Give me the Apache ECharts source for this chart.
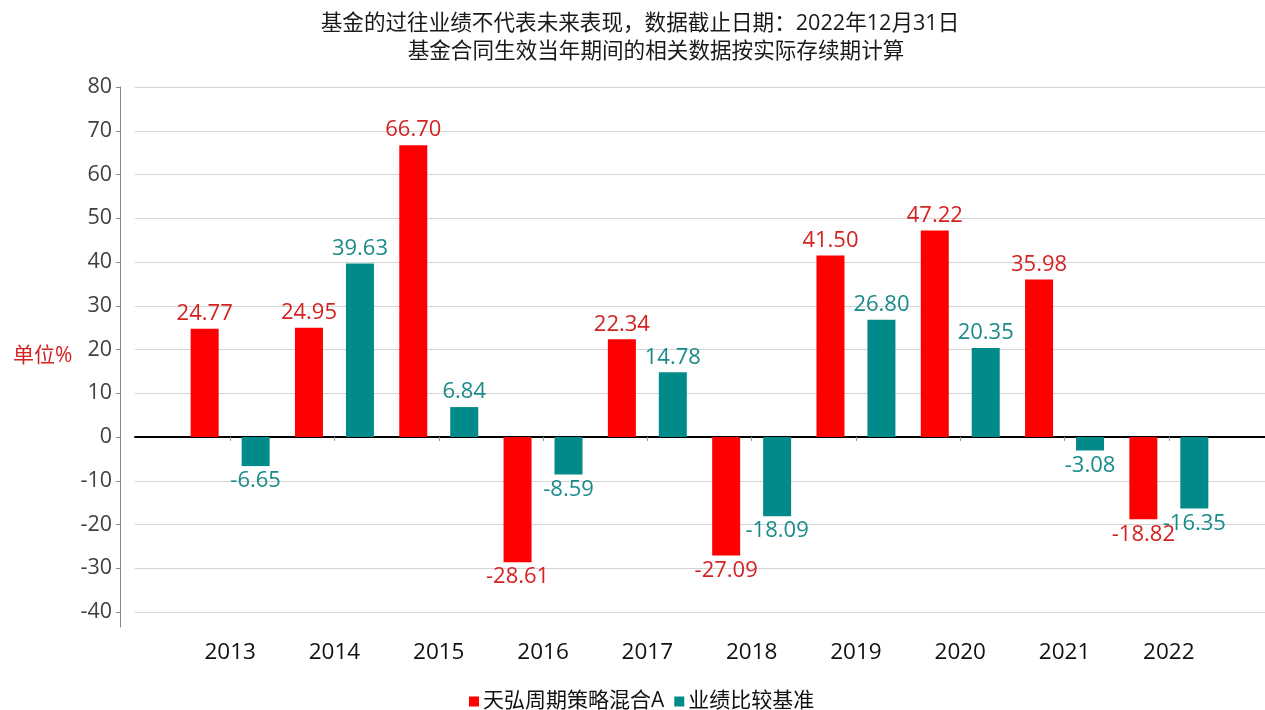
<!DOCTYPE html>
<html>
<head>
<meta charset="utf-8">
<title>天弘周期策略混合A</title>
<script src="https://cdn.jsdelivr.net/npm/echarts@6/dist/echarts.min.js"></script>
<style>
  html, body { margin: 0; padding: 0; background: #fff; }
  #chart { width: 1265px; height: 710px; }
</style>
</head>
<body>
<div id="chart"></div>
<script>
  // 数据
  var years = ['2013', '2014', '2015', '2016', '2017', '2018', '2019', '2020', '2021', '2022'];
  var fundName = '天弘周期策略混合A';
  var benchName = '业绩比较基准';
  var fundValues = [24.77, 24.95, 66.70, -28.61, 22.34, -27.09, 41.50, 47.22, 35.98, -18.82];
  var benchValues = [-6.65, 39.63, 6.84, -8.59, 14.78, -18.09, 26.80, 20.35, -3.08, -16.35];

  var font = '"Open Sans", "Noto Sans CJK SC", sans-serif';
  var redBar = '#ff0000', redText = '#d42222';
  var tealBar = '#008b8a', tealText = '#1b8a8a';

  // 负值标签放在柱子下方
  function withLabelPos(arr) {
    return arr.map(function (v) {
      return { value: v, label: { position: v < 0 ? 'bottom' : 'top' } };
    });
  }

  var chart = echarts.init(document.getElementById('chart'));
  var option = {
    backgroundColor: '#fff',
    animation: false,
    title: [
      {
        text: '基金的过往业绩不代表未来表现，数据截止日期：2022年12月31日',
        left: 635, top: 8, textAlign: 'center',
        textStyle: { fontFamily: font, fontSize: 21.6, fontWeight: 'normal', color: '#1a1a1a' }
      },
      {
        text: '基金合同生效当年期间的相关数据按实际存续期计算',
        left: 651, top: 36, textAlign: 'center',
        textStyle: { fontFamily: font, fontSize: 21.6, fontWeight: 'normal', color: '#1a1a1a' }
      },
      {
        text: '单位%',
        left: 8, top: 341,
        textStyle: { fontFamily: font, fontSize: 21, fontWeight: 'normal', color: redText }
      }
    ],
    legend: {
      data: [fundName, benchName],
      left: 464, top: 686,
      icon: 'rect', itemWidth: 10, itemHeight: 10, itemGap: 10,
      textStyle: { fontFamily: font, fontSize: 21, color: '#111', padding: [0, 0, 0, -1] }
    },
    grid: [
      { left: 135, right: 0, top: 87, bottom: 98 },
      { left: 178, right: 44, top: 87, bottom: 83 }
    ],
    xAxis: [
      {
        gridIndex: 0, type: 'category', data: years,
        axisLine: { onZero: true, lineStyle: { color: '#000', width: 2 } },
        axisTick: { show: false }, axisLabel: { show: false }
      },
      {
        gridIndex: 1, type: 'category', data: years, offset: 4,
        axisLine: { show: false },
        axisTick: { show: true, alignWithLabel: true, length: 4, lineStyle: { color: '#999' } },
        axisLabel: { margin: 10, fontFamily: font, fontSize: 22.5, color: '#111' }
      }
    ],
    yAxis: [
      {
        gridIndex: 0, type: 'value', min: -40, max: 80, interval: 10, offset: 15,
        axisLine: { show: false },
        axisTick: { show: true, length: 4, lineStyle: { color: '#888' } },
        axisLabel: { margin: 8, fontFamily: font, fontSize: 21.5, color: '#404040' },
        splitLine: { lineStyle: { color: '#d4d4d4', width: 1 } }
      },
      {
        gridIndex: 1, type: 'value', min: -43.43, max: 80, offset: 58,
        axisLine: { show: true, lineStyle: { color: '#888', width: 1 } },
        axisTick: { show: false }, axisLabel: { show: false }, splitLine: { show: false }
      }
    ],
    series: [
      {
        name: fundName, type: 'bar', xAxisIndex: 1, yAxisIndex: 1,
        data: withLabelPos(fundValues),
        barWidth: 28, barGap: '82%',
        itemStyle: { color: redBar },
        label: {
          show: true, distance: 4, fontFamily: font, fontSize: 22, color: redText,
          formatter: function (p) { return p.value.toFixed(2); }
        }
      },
      {
        name: benchName, type: 'bar', xAxisIndex: 1, yAxisIndex: 1,
        data: withLabelPos(benchValues),
        barWidth: 28, barGap: '82%',
        itemStyle: { color: tealBar },
        label: {
          show: true, distance: 4, fontFamily: font, fontSize: 22, color: tealText,
          formatter: function (p) { return p.value.toFixed(2); }
        }
      }
    ]
  };
  chart.setOption(option);
</script>
</body>
</html>
